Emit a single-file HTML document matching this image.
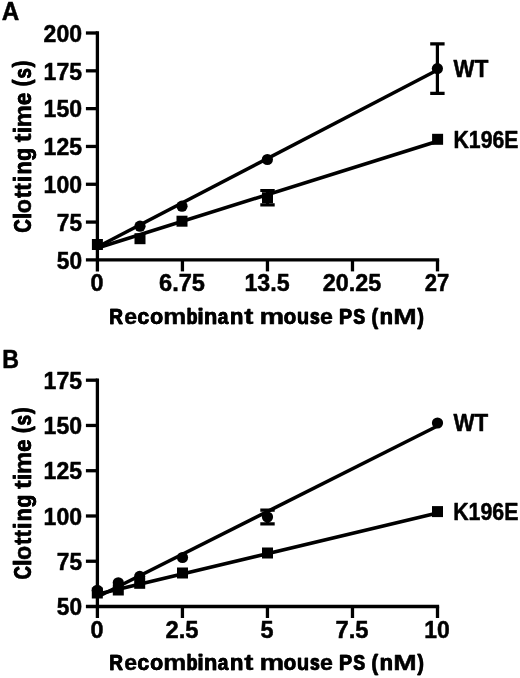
<!DOCTYPE html>
<html><head><meta charset="utf-8"><title>Figure</title>
<style>
html,body{margin:0;padding:0;background:#fff;}
body{width:520px;height:678px;overflow:hidden;}
svg{display:block;filter:grayscale(1);}
text{font-family:"Liberation Sans",sans-serif;font-weight:bold;fill:#000;stroke:#000;stroke-width:0.5;stroke-linejoin:round;}
.ax{stroke:#000;stroke-width:3.3;fill:none;stroke-linecap:butt;}
.ln{stroke:#000;stroke-width:3.6;fill:none;stroke-linecap:butt;}
.eb{stroke:#000;stroke-width:3.2;fill:none;stroke-linecap:butt;}
.pt{fill:#000;stroke:none;}
</style></head><body>
<svg width="520" height="678" viewBox="0 0 520 678">
<rect x="0" y="0" width="520" height="678" fill="#fff"/>
<text transform="translate(1.7 19.7) scale(0.965 1)" font-size="25.1">A</text>
<path class="ax" d="M97.4 31.35V271.4"/>
<path class="ax" d="M85.9 259.9H439.15"/>
<path class="ax" d="M85.9 33.0H97.4"/>
<text x="82.0" y="41.7" font-size="23.1" text-anchor="end" textLength="38.4" lengthAdjust="spacingAndGlyphs">200</text>
<path class="ax" d="M85.9 70.82H97.4"/>
<text x="82.0" y="79.52" font-size="23.1" text-anchor="end" textLength="38.4" lengthAdjust="spacingAndGlyphs">175</text>
<path class="ax" d="M85.9 108.63H97.4"/>
<text x="82.0" y="117.33" font-size="23.1" text-anchor="end" textLength="38.4" lengthAdjust="spacingAndGlyphs">150</text>
<path class="ax" d="M85.9 146.45H97.4"/>
<text x="82.0" y="155.15" font-size="23.1" text-anchor="end" textLength="38.4" lengthAdjust="spacingAndGlyphs">125</text>
<path class="ax" d="M85.9 184.27H97.4"/>
<text x="82.0" y="192.97" font-size="23.1" text-anchor="end" textLength="38.4" lengthAdjust="spacingAndGlyphs">100</text>
<path class="ax" d="M85.9 222.08H97.4"/>
<text x="82.0" y="230.78" font-size="23.1" text-anchor="end" textLength="25.2" lengthAdjust="spacingAndGlyphs">75</text>
<text x="82.0" y="268.6" font-size="23.1" text-anchor="end" textLength="25.2" lengthAdjust="spacingAndGlyphs">50</text>
<text x="97.0" y="291.1" font-size="23.4" text-anchor="middle">0</text>
<path class="ax" d="M182.43 259.9V271.4"/>
<text x="182.03" y="291.1" font-size="23.4" text-anchor="middle" textLength="46.0" lengthAdjust="spacingAndGlyphs">6.75</text>
<path class="ax" d="M267.45 259.9V271.4"/>
<text x="267.05" y="291.1" font-size="23.4" text-anchor="middle" textLength="45.2" lengthAdjust="spacingAndGlyphs">13.5</text>
<path class="ax" d="M352.48 259.9V271.4"/>
<text x="352.08" y="291.1" font-size="23.4" text-anchor="middle" textLength="58.5" lengthAdjust="spacingAndGlyphs">20.25</text>
<path class="ax" d="M437.5 259.9V271.4"/>
<text x="437.1" y="291.1" font-size="23.4" text-anchor="middle" textLength="24.5" lengthAdjust="spacingAndGlyphs">27</text>
<text transform="translate(108.94 324.00) scale(0.837 1.0)" font-size="22.7">R</text>
<text transform="translate(109.56 324.00) scale(0.837 1.0)" font-size="22.7">R</text>
<text transform="translate(124.25 324.00) scale(1.012 0.95)" font-size="22.7">e</text>
<text transform="translate(137.30 324.00) scale(0.936 0.95)" font-size="22.7">c</text>
<text transform="translate(137.57 324.00) scale(0.936 0.95)" font-size="22.7">c</text>
<text transform="translate(150.10 324.00) scale(0.941 0.95)" font-size="22.7">o</text>
<text transform="translate(150.35 324.00) scale(0.941 0.95)" font-size="22.7">o</text>
<text transform="translate(163.18 324.00) scale(1.142 0.95)" font-size="22.7">m</text>
<text transform="translate(186.23 324.00) scale(0.775 0.97)" font-size="22.7">b</text>
<text transform="translate(187.08 324.00) scale(0.775 0.97)" font-size="22.7">b</text>
<text transform="translate(197.32 324.00) scale(1.000 0.97)" font-size="22.7">i</text>
<text transform="translate(197.60 324.00) scale(1.000 0.97)" font-size="22.7">i</text>
<text transform="translate(203.90 324.00) scale(0.962 0.95)" font-size="22.7">n</text>
<text transform="translate(204.07 324.00) scale(0.962 0.95)" font-size="22.7">n</text>
<text transform="translate(217.45 324.00) scale(0.840 0.95)" font-size="22.7">a</text>
<text transform="translate(218.07 324.00) scale(0.840 0.95)" font-size="22.7">a</text>
<text transform="translate(229.77 324.00) scale(0.988 0.95)" font-size="22.7">n</text>
<text transform="translate(229.85 324.00) scale(0.988 0.95)" font-size="22.7">n</text>
<text transform="translate(244.17 324.00) scale(1.212 0.97)" font-size="22.7">t</text>
<text transform="translate(259.38 324.00) scale(1.221 0.95)" font-size="22.7">m</text>
<text transform="translate(283.53 324.00) scale(0.897 0.95)" font-size="22.7">o</text>
<text transform="translate(283.94 324.00) scale(0.897 0.95)" font-size="22.7">o</text>
<text transform="translate(296.67 324.00) scale(0.886 0.95)" font-size="22.7">u</text>
<text transform="translate(297.12 324.00) scale(0.886 0.95)" font-size="22.7">u</text>
<text transform="translate(309.81 324.00) scale(0.713 0.95)" font-size="22.7">s</text>
<text transform="translate(310.88 324.00) scale(0.713 0.95)" font-size="22.7">s</text>
<text transform="translate(320.05 324.00) scale(1.021 0.95)" font-size="22.7">e</text>
<text transform="translate(338.70 324.00) scale(0.868 1.0)" font-size="22.7">P</text>
<text transform="translate(339.21 324.00) scale(0.868 1.0)" font-size="22.7">P</text>
<text transform="translate(352.99 324.00) scale(0.758 1.0)" font-size="22.7">S</text>
<text transform="translate(353.90 324.00) scale(0.758 1.0)" font-size="22.7">S</text>
<text transform="translate(371.26 324.00) scale(0.835 1.005)" font-size="22.7">(</text>
<text transform="translate(371.89 324.00) scale(0.835 1.005)" font-size="22.7">(</text>
<text transform="translate(379.47 324.00) scale(0.988 0.95)" font-size="22.7">n</text>
<text transform="translate(379.55 324.00) scale(0.988 0.95)" font-size="22.7">n</text>
<text transform="translate(393.33 324.00) scale(1.240 1.0)" font-size="22.7">M</text>
<text transform="translate(417.19 324.00) scale(0.835 1.005)" font-size="22.7">)</text>
<text transform="translate(417.82 324.00) scale(0.835 1.005)" font-size="22.7">)</text>
<text transform="translate(30.60 232.20) rotate(-90) translate(-0.54 0) scale(0.776 1.0)" font-size="23.2">C</text>
<text transform="translate(30.60 232.20) rotate(-90) translate(0.20 0) scale(0.776 1.0)" font-size="23.2">C</text>
<text transform="translate(30.60 217.40) rotate(-90) translate(-1.69 0) scale(1.000 1.05)" font-size="23.2">l</text>
<text transform="translate(30.60 217.40) rotate(-90) translate(-1.53 0) scale(1.000 1.05)" font-size="23.2">l</text>
<text transform="translate(30.60 212.60) rotate(-90) translate(-0.66 0) scale(1.003 1.02)" font-size="23.2">o</text>
<text transform="translate(30.60 198.00) rotate(-90) translate(-0.03 0) scale(0.880 1.05)" font-size="23.2">t</text>
<text transform="translate(30.60 198.00) rotate(-90) translate(0.33 0) scale(0.880 1.05)" font-size="23.2">t</text>
<text transform="translate(30.60 190.70) rotate(-90) translate(-0.03 0) scale(0.979 1.05)" font-size="23.2">t</text>
<text transform="translate(30.60 181.10) rotate(-90) translate(-1.04 0) scale(1.000 1.05)" font-size="23.2">i</text>
<text transform="translate(30.60 181.10) rotate(-90) translate(-0.88 0) scale(1.000 1.05)" font-size="23.2">i</text>
<text transform="translate(30.60 173.40) rotate(-90) translate(-1.18 0) scale(0.923 1.02)" font-size="23.2">n</text>
<text transform="translate(30.60 173.40) rotate(-90) translate(-0.98 0) scale(0.923 1.02)" font-size="23.2">n</text>
<text transform="translate(30.60 160.30) rotate(-90) translate(-0.64 0) scale(0.919 1.0)" font-size="23.2">g</text>
<text transform="translate(30.60 160.30) rotate(-90) translate(-0.43 0) scale(0.919 1.0)" font-size="23.2">g</text>
<text transform="translate(30.60 142.20) rotate(-90) translate(-0.04 0) scale(1.136 1.05)" font-size="23.2">t</text>
<text transform="translate(30.60 132.20) rotate(-90) translate(-1.09 0) scale(1.000 1.05)" font-size="23.2">i</text>
<text transform="translate(30.60 132.20) rotate(-90) translate(-0.93 0) scale(1.000 1.05)" font-size="23.2">i</text>
<text transform="translate(30.60 126.10) rotate(-90) translate(-1.40 0) scale(1.096 1.02)" font-size="23.2">m</text>
<text transform="translate(30.60 104.50) rotate(-90) translate(-0.63 0) scale(0.960 1.02)" font-size="23.2">e</text>
<text transform="translate(30.60 104.50) rotate(-90) translate(-0.57 0) scale(0.960 1.02)" font-size="23.2">e</text>
<text transform="translate(30.10 85.70) rotate(-90) translate(-0.78 0) scale(0.862 1.04)" font-size="23.2">(</text>
<text transform="translate(30.10 85.70) rotate(-90) translate(-0.36 0) scale(0.862 1.04)" font-size="23.2">(</text>
<text transform="translate(30.60 78.40) rotate(-90) translate(-0.45 0) scale(0.792 1.02)" font-size="23.2">s</text>
<text transform="translate(30.60 78.40) rotate(-90) translate(0.23 0) scale(0.792 1.02)" font-size="23.2">s</text>
<text transform="translate(30.10 67.60) rotate(-90) translate(0.19 0) scale(0.832 1.04)" font-size="23.2">)</text>
<text transform="translate(30.10 67.60) rotate(-90) translate(0.72 0) scale(0.832 1.04)" font-size="23.2">)</text>
<path class="ln" d="M97.4 247.0L437.5 70.0"/>
<circle class="pt" cx="140" cy="226.2" r="5.6"/>
<circle class="pt" cx="182" cy="206.2" r="5.6"/>
<circle class="pt" cx="267.4" cy="159.5" r="5.6"/>
<path class="eb" d="M437.4 43.89999999999999V93.3M430.2 43.89999999999999H444.59999999999997M430.2 93.3H444.59999999999997"/>
<circle class="pt" cx="437.4" cy="68.6" r="5.6"/>
<path class="ln" d="M97.4 248.0L437.5 141.2"/>
<rect class="pt" x="91.9" y="239.0" width="11" height="11"/>
<rect class="pt" x="134.5" y="233.2" width="11" height="11"/>
<rect class="pt" x="176.5" y="215.7" width="11" height="11"/>
<path class="eb" d="M267.5 190.5V204.89999999999998M260.3 190.5H274.7M260.3 204.89999999999998H274.7"/>
<rect class="pt" x="262.0" y="192.2" width="11" height="11"/>
<rect class="pt" x="432.1" y="133.8" width="11" height="11"/>
<text x="453.6" y="77.2" font-size="23.3" text-anchor="start" textLength="34.7" lengthAdjust="spacingAndGlyphs">WT</text>
<text x="453.5" y="148.3" font-size="23.3" text-anchor="start" textLength="64.9" lengthAdjust="spacingAndGlyphs">K196E</text>
<text transform="translate(2.3 368.0) scale(0.925 1)" font-size="25.1">B</text>
<path class="ax" d="M97.4 378.55V618.0"/>
<path class="ax" d="M85.9 606.5H439.15"/>
<path class="ax" d="M85.9 380.2H97.4"/>
<text x="82.0" y="388.9" font-size="23.1" text-anchor="end" textLength="38.4" lengthAdjust="spacingAndGlyphs">175</text>
<path class="ax" d="M85.9 425.46H97.4"/>
<text x="82.0" y="434.16" font-size="23.1" text-anchor="end" textLength="38.4" lengthAdjust="spacingAndGlyphs">150</text>
<path class="ax" d="M85.9 470.72H97.4"/>
<text x="82.0" y="479.42" font-size="23.1" text-anchor="end" textLength="38.4" lengthAdjust="spacingAndGlyphs">125</text>
<path class="ax" d="M85.9 515.98H97.4"/>
<text x="82.0" y="524.68" font-size="23.1" text-anchor="end" textLength="38.4" lengthAdjust="spacingAndGlyphs">100</text>
<path class="ax" d="M85.9 561.24H97.4"/>
<text x="82.0" y="569.94" font-size="23.1" text-anchor="end" textLength="25.2" lengthAdjust="spacingAndGlyphs">75</text>
<text x="82.0" y="615.2" font-size="23.1" text-anchor="end" textLength="25.2" lengthAdjust="spacingAndGlyphs">50</text>
<text x="97.0" y="637.7" font-size="23.4" text-anchor="middle">0</text>
<path class="ax" d="M182.43 606.5V618.0"/>
<text x="182.03" y="637.7" font-size="23.4" text-anchor="middle" textLength="33.0" lengthAdjust="spacingAndGlyphs">2.5</text>
<path class="ax" d="M267.45 606.5V618.0"/>
<text x="267.05" y="637.7" font-size="23.4" text-anchor="middle">5</text>
<path class="ax" d="M352.48 606.5V618.0"/>
<text x="352.08" y="637.7" font-size="23.4" text-anchor="middle" textLength="33.0" lengthAdjust="spacingAndGlyphs">7.5</text>
<path class="ax" d="M437.5 606.5V618.0"/>
<text x="437.1" y="637.7" font-size="23.4" text-anchor="middle" textLength="25.5" lengthAdjust="spacingAndGlyphs">10</text>
<text transform="translate(108.94 670.30) scale(0.837 1.0)" font-size="22.7">R</text>
<text transform="translate(109.56 670.30) scale(0.837 1.0)" font-size="22.7">R</text>
<text transform="translate(124.25 670.30) scale(1.012 0.95)" font-size="22.7">e</text>
<text transform="translate(137.30 670.30) scale(0.936 0.95)" font-size="22.7">c</text>
<text transform="translate(137.57 670.30) scale(0.936 0.95)" font-size="22.7">c</text>
<text transform="translate(150.10 670.30) scale(0.941 0.95)" font-size="22.7">o</text>
<text transform="translate(150.35 670.30) scale(0.941 0.95)" font-size="22.7">o</text>
<text transform="translate(163.18 670.30) scale(1.142 0.95)" font-size="22.7">m</text>
<text transform="translate(186.23 670.30) scale(0.775 0.97)" font-size="22.7">b</text>
<text transform="translate(187.08 670.30) scale(0.775 0.97)" font-size="22.7">b</text>
<text transform="translate(197.32 670.30) scale(1.000 0.97)" font-size="22.7">i</text>
<text transform="translate(197.60 670.30) scale(1.000 0.97)" font-size="22.7">i</text>
<text transform="translate(203.90 670.30) scale(0.962 0.95)" font-size="22.7">n</text>
<text transform="translate(204.07 670.30) scale(0.962 0.95)" font-size="22.7">n</text>
<text transform="translate(217.45 670.30) scale(0.840 0.95)" font-size="22.7">a</text>
<text transform="translate(218.07 670.30) scale(0.840 0.95)" font-size="22.7">a</text>
<text transform="translate(229.77 670.30) scale(0.988 0.95)" font-size="22.7">n</text>
<text transform="translate(229.85 670.30) scale(0.988 0.95)" font-size="22.7">n</text>
<text transform="translate(244.17 670.30) scale(1.212 0.97)" font-size="22.7">t</text>
<text transform="translate(259.38 670.30) scale(1.221 0.95)" font-size="22.7">m</text>
<text transform="translate(283.53 670.30) scale(0.897 0.95)" font-size="22.7">o</text>
<text transform="translate(283.94 670.30) scale(0.897 0.95)" font-size="22.7">o</text>
<text transform="translate(296.67 670.30) scale(0.886 0.95)" font-size="22.7">u</text>
<text transform="translate(297.12 670.30) scale(0.886 0.95)" font-size="22.7">u</text>
<text transform="translate(309.81 670.30) scale(0.713 0.95)" font-size="22.7">s</text>
<text transform="translate(310.88 670.30) scale(0.713 0.95)" font-size="22.7">s</text>
<text transform="translate(320.05 670.30) scale(1.021 0.95)" font-size="22.7">e</text>
<text transform="translate(338.70 670.30) scale(0.868 1.0)" font-size="22.7">P</text>
<text transform="translate(339.21 670.30) scale(0.868 1.0)" font-size="22.7">P</text>
<text transform="translate(352.99 670.30) scale(0.758 1.0)" font-size="22.7">S</text>
<text transform="translate(353.90 670.30) scale(0.758 1.0)" font-size="22.7">S</text>
<text transform="translate(371.26 670.30) scale(0.835 1.005)" font-size="22.7">(</text>
<text transform="translate(371.89 670.30) scale(0.835 1.005)" font-size="22.7">(</text>
<text transform="translate(379.47 670.30) scale(0.988 0.95)" font-size="22.7">n</text>
<text transform="translate(379.55 670.30) scale(0.988 0.95)" font-size="22.7">n</text>
<text transform="translate(393.33 670.30) scale(1.240 1.0)" font-size="22.7">M</text>
<text transform="translate(417.19 670.30) scale(0.835 1.005)" font-size="22.7">)</text>
<text transform="translate(417.82 670.30) scale(0.835 1.005)" font-size="22.7">)</text>
<text transform="translate(30.60 579.00) rotate(-90) translate(-0.54 0) scale(0.776 1.0)" font-size="23.2">C</text>
<text transform="translate(30.60 579.00) rotate(-90) translate(0.20 0) scale(0.776 1.0)" font-size="23.2">C</text>
<text transform="translate(30.60 564.20) rotate(-90) translate(-1.69 0) scale(1.000 1.05)" font-size="23.2">l</text>
<text transform="translate(30.60 564.20) rotate(-90) translate(-1.53 0) scale(1.000 1.05)" font-size="23.2">l</text>
<text transform="translate(30.60 559.40) rotate(-90) translate(-0.66 0) scale(1.003 1.02)" font-size="23.2">o</text>
<text transform="translate(30.60 544.80) rotate(-90) translate(-0.03 0) scale(0.880 1.05)" font-size="23.2">t</text>
<text transform="translate(30.60 544.80) rotate(-90) translate(0.33 0) scale(0.880 1.05)" font-size="23.2">t</text>
<text transform="translate(30.60 537.50) rotate(-90) translate(-0.03 0) scale(0.979 1.05)" font-size="23.2">t</text>
<text transform="translate(30.60 527.90) rotate(-90) translate(-1.04 0) scale(1.000 1.05)" font-size="23.2">i</text>
<text transform="translate(30.60 527.90) rotate(-90) translate(-0.88 0) scale(1.000 1.05)" font-size="23.2">i</text>
<text transform="translate(30.60 520.20) rotate(-90) translate(-1.18 0) scale(0.923 1.02)" font-size="23.2">n</text>
<text transform="translate(30.60 520.20) rotate(-90) translate(-0.98 0) scale(0.923 1.02)" font-size="23.2">n</text>
<text transform="translate(30.60 507.10) rotate(-90) translate(-0.64 0) scale(0.919 1.0)" font-size="23.2">g</text>
<text transform="translate(30.60 507.10) rotate(-90) translate(-0.43 0) scale(0.919 1.0)" font-size="23.2">g</text>
<text transform="translate(30.60 489.00) rotate(-90) translate(-0.04 0) scale(1.136 1.05)" font-size="23.2">t</text>
<text transform="translate(30.60 479.00) rotate(-90) translate(-1.09 0) scale(1.000 1.05)" font-size="23.2">i</text>
<text transform="translate(30.60 479.00) rotate(-90) translate(-0.93 0) scale(1.000 1.05)" font-size="23.2">i</text>
<text transform="translate(30.60 472.90) rotate(-90) translate(-1.40 0) scale(1.096 1.02)" font-size="23.2">m</text>
<text transform="translate(30.60 451.30) rotate(-90) translate(-0.63 0) scale(0.960 1.02)" font-size="23.2">e</text>
<text transform="translate(30.60 451.30) rotate(-90) translate(-0.57 0) scale(0.960 1.02)" font-size="23.2">e</text>
<text transform="translate(30.10 432.50) rotate(-90) translate(-0.78 0) scale(0.862 1.04)" font-size="23.2">(</text>
<text transform="translate(30.10 432.50) rotate(-90) translate(-0.36 0) scale(0.862 1.04)" font-size="23.2">(</text>
<text transform="translate(30.60 425.20) rotate(-90) translate(-0.45 0) scale(0.792 1.02)" font-size="23.2">s</text>
<text transform="translate(30.60 425.20) rotate(-90) translate(0.23 0) scale(0.792 1.02)" font-size="23.2">s</text>
<text transform="translate(30.10 414.40) rotate(-90) translate(0.19 0) scale(0.832 1.04)" font-size="23.2">)</text>
<text transform="translate(30.10 414.40) rotate(-90) translate(0.72 0) scale(0.832 1.04)" font-size="23.2">)</text>
<path class="ln" d="M97.4 597.0L437.5 426.0"/>
<circle class="pt" cx="97.3" cy="590.3" r="5.6"/>
<circle class="pt" cx="118.3" cy="582.8" r="5.6"/>
<circle class="pt" cx="139.7" cy="576.4" r="5.6"/>
<circle class="pt" cx="182.5" cy="557.5" r="5.6"/>
<path class="eb" d="M267.5 510.1V523.9M260.3 510.1H274.7M260.3 523.9H274.7"/>
<circle class="pt" cx="267.5" cy="517.0" r="5.6"/>
<circle class="pt" cx="437.5" cy="423.0" r="5.6"/>
<path class="ln" d="M97.4 594.3L437.5 513.0"/>
<rect class="pt" x="91.8" y="587.5" width="11" height="11"/>
<rect class="pt" x="112.8" y="584.5" width="11" height="11"/>
<rect class="pt" x="134.2" y="577.8" width="11" height="11"/>
<rect class="pt" x="177.0" y="567.5" width="11" height="11"/>
<rect class="pt" x="262.0" y="547.5" width="11" height="11"/>
<rect class="pt" x="432.0" y="506.1" width="11" height="11"/>
<text x="453.4" y="430.8" font-size="23.3" text-anchor="start" textLength="34.8" lengthAdjust="spacingAndGlyphs">WT</text>
<text x="453.2" y="519.8" font-size="23.3" text-anchor="start" textLength="65.2" lengthAdjust="spacingAndGlyphs">K196E</text>
</svg></body></html>
